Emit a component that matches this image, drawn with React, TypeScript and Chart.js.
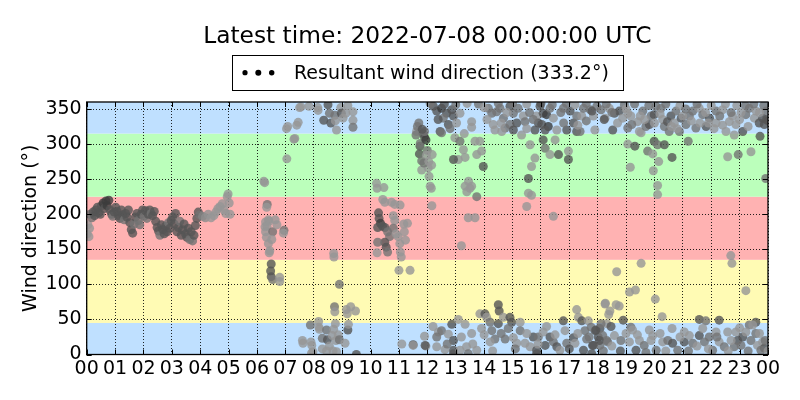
import { useEffect, useRef } from "react";
import { Chart, registerables } from "chart.js";

Chart.register(...registerables);

const TITLE = "Latest time: 2022-07-08 00:00:00 UTC";
const LEGEND_LABEL = "Resultant wind direction (333.2°)";
const Y_LABEL = "Wind direction (°)";
const HOUR_TICKS = [0, 1, 2, 3, 4, 5, 6, 7, 8, 9, 10, 11, 12, 13, 14, 15, 16, 17, 18, 19, 20, 21, 22, 23, 24];
const DIR_TICKS = [0, 50, 100, 150, 200, 250, 300, 350];
const BAND_LIMITS: [number, number][] = [[0, 45], [45, 135], [135, 225], [225, 315], [315, 360]];
const BAND_COLORS = ["#bfe0ff", "#fffbb4", "#ffb2b2", "#bbffbb", "#bfe0ff"];

// [hour, direction (deg), grey level of marker]
const night: [number, number, number][] = [
  [0.02,172,150],[0.04,185,150],[0.08,168,150],[0.1,180,150],[0.12,200,115],[0.18,195,115],[0.22,203,85],[0.28,198,85],[0.32,206,85],[0.38,210,85],[0.42,202,85],[0.48,200,85],[0.52,212,85],[0.58,216,60],[0.62,208,85],[0.68,219,60],[0.72,212,60],[0.78,220,60],[0.82,206,85],[0.88,200,85],[0.92,197,115],[0.97,203,85],[1.02,210,85],[1.07,204,85],[1.12,198,85],[1.17,194,85],[1.22,206,85],[1.27,199,85],[1.32,192,115],[1.37,201,85],[1.42,196,85],[1.47,206,85],[1.52,188,85],[1.57,178,85],[1.62,173,85],[1.67,186,115],[1.72,196,85],[1.77,201,85],[1.82,191,115],[1.87,185,115],[1.92,200,85],[1.97,206,85],[2.02,197,115],[2.07,205,85],[2.12,194,115],[2.17,200,85],[2.22,206,85],[2.27,201,115],[2.32,198,85],[2.38,204,85],[2.43,190,85],[2.48,181,85],[2.53,176,85],[2.58,170,115],[2.63,185,85],[2.68,178,85],[2.73,172,85],[2.78,183,85],[2.83,175,85],[2.88,188,115],[2.93,180,85],[2.98,191,85],[3.03,196,85],[3.08,186,85],[3.13,201,85],[3.18,175,85],[3.23,181,85],[3.28,190,115],[3.33,170,85],[3.38,178,85],[3.43,186,85],[3.48,172,85],[3.53,167,85],[3.58,180,85],[3.63,164,115],[3.68,175,85],[3.73,162,115],[3.78,170,85],[3.83,184,85],[3.88,194,85],[3.93,203,85],[3.98,199,115],[4.08,197,130],[4.18,195,140],[4.28,200,145],[4.38,195,150],[4.48,198,150],[4.55,203,150],[4.62,208,150],[4.7,211,150],[4.78,215,150],[4.84,206,150],[4.9,201,150],[4.95,225,150],[4.98,229,150],[5.02,216,150],[5.05,200,150],
];

const morning: [number, number, number][] = [
  [6.24,247,150],[6.27,245,150],[6.36,214,115],[6.34,210,150],[6.3,189,150],[6.4,192,150],[6.42,190,150],[6.28,182,150],[6.35,183,150],[6.3,175,150],[6.55,175,115],[6.33,167,150],[6.4,158,150],[6.43,145,150],[6.45,148,150],[6.52,164,150],[6.5,129,85],[6.48,119,85],[6.5,111,85],[6.55,107,115],[6.8,110,150],[6.8,104,150],[6.95,177,115],[6.93,173,150],[6.7,185,150],[6.64,192,150],
  [7.04,322,150],[7.08,325,150],[7.3,307,150],[7.33,308,150],[7.4,327,150],[7.45,331,150],[7.05,279,150],[7.5,352,150],[7.55,353,150],[7.83,354,150],[8.14,352,150],[8.15,348,150],
  [7.6,20,150],[7.62,16,150],[7.88,42,115],[8.17,47,150],[8.18,39,150],[8.2,36,150],[7.9,18,150],[7.93,13,150],[7.97,4,150],[7.92,2,150],[8.3,23,115],[8.45,35,115],[8.48,21,85],[8.65,27,150],[8.7,36,150],[8.76,44,150],[8.78,20,150],[8.55,12,150],[8.3,8,150],[8.45,5,150],[8.68,5,150],[8.86,28,150],[8.9,21,115],[8.8,4,150],[8.73,68,115],[8.74,61,150],[8.9,100,115],[9.2,35,85],[9.22,43,150],[9.15,64,150],[9.18,58,150],[9.3,68,150],[9.47,62,150],[9.1,16,150],[9.5,0,85],[8.7,144,150],[8.71,139,150],
  [8.5,356,85],[8.35,334,85],[8.55,344,115],[8.6,330,85],[8.74,341,115],[8.76,333,150],[8.8,320,150],[8.95,352,150],[8.97,344,85],[9.03,337,150],[9.13,344,150],[9.38,346,150],[9.38,334,150],[9.38,324,115],[9.2,355,150],
  [10.21,244,150],[10.23,237,150],[10.47,238,150],[10.43,221,150],[10.5,217,150],[10.74,217,150],[10.85,214,150],[10.28,202,85],[10.3,194,85],[10.35,187,60],[10.25,181,85],[10.42,183,85],[10.5,181,85],[10.6,175,115],[10.67,168,115],[10.5,160,85],[10.55,153,85],[10.6,146,115],[10.25,160,115],[10.23,145,150],[10.8,198,150],[10.85,191,150],[10.8,180,115],[10.9,172,150],[10.97,168,150],[11.17,186,150],[11.19,175,150],[11.23,163,150],[11.03,158,150],[11.05,146,150],[11.08,139,150],[11.0,120,150],[11.39,120,150],[11.1,15,150],[11.5,14,85],[11.9,26,150],[11.95,12,150],[11.04,213,150],[11.3,187,150],
  [11.62,318,150],[11.65,325,115],[11.7,330,115],[11.74,297,85],[11.72,286,85],[11.8,276,115],[11.8,263,150],[12.03,266,150],[12.06,254,150],[12.1,240,150],[12.14,237,150],[11.85,315,85],[11.9,310,85],[11.75,301,115],[11.95,306,60],[11.9,318,115],[12.0,291,115],[11.97,284,150],[12.17,285,150],[11.88,273,115],[12.05,275,150],[12.15,270,150],[12.16,212,150],[11.6,313,115],[11.82,321,85],
];

const afternoon: [number, number, number][] = [
  [12.21,354,85],[12.33,347,85],[12.5,351,60],[12.68,344,85],[12.86,349,85],[12.92,340,85],[12.56,337,115],[12.38,335,85],[12.74,328,85],[13.03,330,150],[13.15,344,150],[12.45,318,85],[12.5,316,115],[12.97,309,150],[13.15,304,115],[13.27,292,150],[13.09,278,150],[12.92,278,85],[13.33,281,150],[13.45,247,150],[13.5,237,150],[13.33,240,150],[13.39,232,150],[13.56,240,150],[13.74,225,115],[13.44,195,150],[13.68,195,150],[13.85,304,150],[13.91,290,150],[13.74,285,150],[13.68,304,150],[13.97,268,85],[13.56,332,150],[13.56,324,150],[13.2,155,150],
  [14.15,351,115],[14.27,344,115],[14.44,346,115],[14.38,320,150],[14.32,328,150],[14.56,351,115],[14.68,337,115],[14.74,323,115],[14.62,318,150],[14.91,328,115],[15.03,320,85],[15.03,344,115],[15.15,330,85],[15.32,313,150],[15.38,340,150],[14.91,354,85],[15.2,351,115],[15.44,332,115],
  [15.62,299,150],[15.79,280,150],[15.67,268,150],[15.56,251,85],[15.56,230,150],[15.67,227,150],[15.5,211,150],[15.85,340,150],[15.91,330,85],[15.97,354,85],[16.08,344,85],[16.03,328,85],[16.2,342,60],[16.26,325,60],[16.15,320,85],[16.08,306,85],[16.15,294,115],[15.79,320,85],[15.73,335,115],[16.32,351,115],[16.44,337,150],[16.56,320,150],[16.44,197,150],[16.32,285,150],[16.62,285,85],[16.5,306,150],
  [16.97,290,150],[16.97,278,85],[16.91,320,85],[17.03,347,85],[16.79,351,115],[17.26,318,85],[17.38,318,115],[17.15,330,85],[17.26,340,115],[17.44,340,150],[17.5,351,115],[17.74,349,115],[17.97,354,115],[18.26,337,150],
  [12.1,358,115],[12.6,357,85],[13.0,356,115],[13.4,358,150],[13.8,357,115],[14.0,352,150],[14.5,358,115],[14.8,345,150],[15.0,358,115],[15.5,357,150],[15.6,345,115],[16.0,358,85],[16.4,356,115],[16.7,345,115],[16.9,358,115],[17.2,356,150],[17.6,358,115],[17.85,340,150],[17.3,327,150],[17.6,333,115],[12.8,322,115],[13.3,315,150],[14.1,335,150],[14.6,330,150],[15.5,322,150],[16.8,330,115],[17.9,320,150],
  [11.5,13,150],[11.92,13,85],[12.39,32,150],[12.5,34,115],[12.33,25,115],[12.74,29,150],[12.86,43,85],[12.92,20,85],[13.09,50,150],[12.92,6,85],[12.92,1,85],[12.62,7,150],[12.33,11,150],[13.15,6,150],[13.33,43,150],[13.56,30,150],[13.38,11,150],[13.85,58,150],[14.03,58,85],[14.09,53,150],[13.91,37,150],[14.21,46,115],[14.5,71,85],[14.53,62,85],[14.27,34,115],[14.38,22,115],[14.21,18,150],[14.5,44,85],[14.68,53,150],[14.74,22,115],[14.91,53,85],[14.97,46,85],[14.85,37,115],[15.03,24,150],[15.27,46,150],[15.27,34,115],[15.15,16,150],[15.44,16,150],[15.62,11,150],[15.73,25,85],[15.85,6,85],[15.91,25,115],[16.08,32,150],[16.15,13,85],[16.32,25,85],[16.44,18,115],[16.56,11,85],[16.67,6,150],[16.79,48,85],[16.85,34,150],[16.91,16,115],[17.15,24,85],[17.2,16,150],[17.26,64,150],[17.32,53,150],[17.44,48,85],[17.67,48,150],[17.55,34,115],[17.61,22,115],[17.91,34,85],[18.08,37,85],[18.02,25,85],[17.85,13,85],[18.08,13,115],[18.26,72,150],[18.32,44,150],[18.32,20,115],[17.5,6,85],[17.79,1,85],[15.85,1,85],[13.74,6,150],[13.44,1,115],
  [12.2,40,150],[12.7,15,115],[13.2,25,150],[13.6,15,150],[14.0,28,150],[14.3,5,150],[14.6,30,115],[15.1,8,115],[15.5,30,150],[15.9,15,150],[16.2,40,150],[16.5,28,150],[17.0,8,85],[17.3,30,150],[17.7,25,115],
];

const evening: [number, number, number][] = [
  [17.8,347,85],[18.12,349,115],[18.23,335,85],[18.41,351,150],[18.59,344,85],[18.76,347,85],[18.88,337,150],[18.94,356,115],[19.06,344,150],[18.53,320,85],[19.06,323,115],[19.17,340,150],[19.41,332,150],[19.47,318,150],[19.53,316,150],[19.59,347,115],[19.7,325,115],[19.82,328,85],[19.88,340,115],[19.99,342,85],[20.05,354,115],[20.23,351,115],[20.29,335,150],[20.35,325,115],[20.46,332,85],[20.52,318,115],[20.58,340,85],[20.7,330,150],[20.76,347,115],[20.88,318,115],[20.94,337,85],[21.11,328,115],[21.23,340,115],[21.35,347,115],[21.46,323,115],[21.58,351,150],[21.7,342,115],[21.82,325,85],[21.94,337,85],[22.17,347,115],[22.17,330,150],[22.4,349,150],[22.52,318,150],[22.64,332,150],[22.75,340,150],[22.87,328,150],[22.81,313,150],[23.11,318,85],[23.22,342,115],[23.34,351,115],[23.52,337,150],[23.58,347,150],[23.69,330,85],[23.81,337,85],[23.87,328,85],[23.72,311,85],[23.93,347,115],[24.0,333,85],
  [18.3,357,115],[18.5,345,115],[18.7,330,150],[19.0,350,150],[19.3,357,115],[19.5,340,150],[19.8,355,115],[20.0,330,150],[20.2,343,150],[20.4,357,115],[20.6,325,150],[20.9,355,150],[21.0,340,150],[21.1,350,115],[21.3,333,150],[21.5,357,115],[21.6,330,150],[21.8,345,150],[22.0,355,150],[22.1,322,150],[22.3,340,115],[22.5,357,150],[22.7,345,115],[22.9,355,150],[23.0,335,150],[23.2,355,115],[23.3,325,150],[23.5,357,115],[23.7,345,150],[23.85,355,115],[23.95,335,85],[19.2,328,115],[19.65,335,150],[20.8,322,150],[21.9,330,150],[22.4,327,150],[23.05,345,150],
  [19.06,300,150],[19.31,297,85],[19.15,267,150],[19.76,290,115],[19.94,286,150],[19.99,304,85],[20.11,299,115],[20.35,299,85],[20.15,275,150],[19.96,262,150],[20.11,241,150],[20.11,228,150],[20.62,281,85],[21.19,304,115],[22.58,282,150],[22.95,285,115],[23.4,289,150],[23.92,251,115],
  [19.53,130,150],[18.67,118,150],[19.12,89,150],[19.33,92,150],[20.03,79,150],[18.27,73,150],[18.65,71,150],[18.76,69,150],[18.43,62,150],[18.39,57,150],[20.27,54,150],[18.9,49,85],[21.58,50,85],[21.81,48,115],[22.28,49,85],[22.69,141,150],[22.73,130,150],[23.22,91,150],[23.57,46,85],[23.34,42,115],
  [17.77,39,115],[17.94,35,85],[18.12,44,115],[18.47,40,85],[18.18,27,115],[18.06,20,85],[17.82,13,85],[18.35,18,115],[18.59,27,150],[18.82,20,115],[19.17,39,115],[19.23,35,150],[19.12,18,150],[19.35,6,85],[19.47,20,150],[19.64,13,115],[19.82,35,150],[19.88,20,150],[20.06,6,115],[19.94,27,150],[20.29,18,150],[20.47,20,115],[20.62,37,150],[20.64,16,85],[20.82,6,115],[21.05,32,150],[21.05,18,85],[21.23,27,150],[21.35,16,115],[21.58,27,85],[21.7,37,150],[21.76,18,115],[21.93,25,115],[22.05,6,115],[22.17,32,150],[22.28,18,150],[22.46,11,115],[22.58,32,150],[22.87,32,150],[22.93,20,85],[23.05,13,115],[23.11,25,85],[23.22,32,150],[23.4,20,115],[23.46,42,150],[23.57,30,115],[23.63,13,150],[23.81,18,150],[23.87,9,85],[23.75,6,115],[22.81,11,115],
  [18.2,5,115],[18.5,12,150],[18.8,5,85],[19.0,30,150],[19.4,28,150],[19.7,3,115],[20.2,30,150],[20.4,5,150],[20.9,25,150],[21.2,5,115],[21.5,12,150],[21.9,8,150],[22.2,25,115],[22.6,5,150],[22.7,20,150],[23.0,38,150],[23.3,5,115],[23.7,30,150],[23.9,20,115],[24.0,5,150],
];

const FONT = "'DejaVu Sans', sans-serif";

export default function App() {
  const ref = useRef<HTMLCanvasElement | null>(null);

  useEffect(() => {
    if (!ref.current) return;
    const points = [...night, ...morning, ...afternoon, ...evening];

    const decor = {
      id: "decor",
      beforeDraw(chart: any) {
        const { ctx, chartArea: a, scales } = chart;
        const y = scales.y;
        ctx.save();
        BAND_LIMITS.forEach((lim, i) => {
          const top = y.getPixelForValue(lim[1]);
          const bot = y.getPixelForValue(lim[0]);
          ctx.fillStyle = BAND_COLORS[i];
          ctx.fillRect(a.left, top, a.right - a.left, bot - top);
        });
        ctx.restore();
      },
      afterDraw(chart: any) {
        const { ctx, chartArea: a, scales } = chart;
        const x = scales.x;
        const y = scales.y;
        ctx.save();
        ctx.strokeStyle = "#000";
        ctx.lineWidth = 1;
        ctx.beginPath();
        HOUR_TICKS.forEach((h) => {
          const px = Math.round(x.getPixelForValue(h)) + 0.5;
          ctx.moveTo(px, a.bottom);
          ctx.lineTo(px, a.bottom - 5);
          ctx.moveTo(px, a.top);
          ctx.lineTo(px, a.top + 5);
        });
        DIR_TICKS.forEach((d) => {
          const py = Math.round(y.getPixelForValue(d)) + 0.5;
          ctx.moveTo(a.left, py);
          ctx.lineTo(a.left + 5, py);
          ctx.moveTo(a.right, py);
          ctx.lineTo(a.right - 5, py);
        });
        ctx.stroke();
        ctx.lineWidth = 1.3;
        ctx.strokeRect(a.left, a.top, a.right - a.left, a.bottom - a.top);

        const cx = (a.left + a.right) / 2;
        ctx.fillStyle = "#000";
        ctx.font = `23.3px ${FONT}`;
        ctx.textAlign = "center";
        ctx.textBaseline = "alphabetic";
        ctx.fillText(TITLE, cx, 43);

        ctx.lineWidth = 1;
        ctx.strokeRect(232.5, 55.5, 391, 35);
        ctx.font = `19px ${FONT}`;
        ctx.textAlign = "left";
        ctx.fillText(LEGEND_LABEL, 294, 78.5);
        const dots: [number, number][] = [[245, 2.6], [258.3, 3], [271.7, 2.7]];
        dots.forEach(([dx, r]) => {
          ctx.beginPath();
          ctx.arc(dx, 72.7, r, 0, Math.PI * 2);
          ctx.fill();
        });

        ctx.save();
        ctx.translate(36, (a.top + a.bottom) / 2);
        ctx.rotate(-Math.PI / 2);
        ctx.textAlign = "center";
        ctx.textBaseline = "alphabetic";
        ctx.font = `19px ${FONT}`;
        ctx.fillText(Y_LABEL, 0, 0);
        ctx.restore();
        ctx.restore();
      },
    };

    const chart = new Chart(ref.current, {
      type: "scatter",
      data: {
        datasets: [
          {
            label: LEGEND_LABEL,
            data: points.map((p) => ({ x: p[0], y: p[1] })),
            pointBackgroundColor: points.map((p) => `rgba(${p[2]},${p[2]},${p[2]},0.8)`),
            pointBorderWidth: 0,
            pointRadius: 4.5,
            pointHoverRadius: 4.5,
          },
        ],
      },
      options: {
        responsive: false,
        animation: false,
        events: [],
        layout: { padding: { top: 102, right: 32, left: 0, bottom: 0 } },
        plugins: { legend: { display: false }, title: { display: false }, tooltip: { enabled: false } },
        scales: {
          x: {
            type: "linear",
            min: 0,
            max: 24,
            afterFit: (s: any) => {
              s.height = 45.5;
            },
            afterBuildTicks: (s: any) => {
              s.ticks = HOUR_TICKS.map((v) => ({ value: v }));
            },
            ticks: {
              autoSkip: false,
              maxRotation: 0,
              padding: 3,
              color: "#000",
              font: { family: FONT, size: 19 },
              callback: (v: any) => String(Number(v) % 24).padStart(2, "0"),
            },
            grid: { color: "rgba(0,0,0,0.85)", lineWidth: 1, drawTicks: false },
            border: { display: false, dash: [1, 2] },
          },
          y: {
            type: "linear",
            min: 0,
            max: 360,
            afterFit: (s: any) => {
              s.width = 86.7;
            },
            afterBuildTicks: (s: any) => {
              s.ticks = DIR_TICKS.map((v) => ({ value: v }));
            },
            ticks: {
              autoSkip: false,
              padding: 5,
              color: "#000",
              font: { family: FONT, size: 19 },
              callback: (v: any) => String(v),
            },
            grid: { color: "rgba(0,0,0,0.85)", lineWidth: 1, drawTicks: false },
            border: { display: false, dash: [1, 2] },
          },
        },
      },
      plugins: [decor],
    });
    return () => chart.destroy();
  }, []);

  return (
    <div style={{ position: "fixed", left: 0, top: 0, width: 800, height: 400, background: "#fff" }}>
      <canvas ref={ref} width={800} height={400} style={{ width: 800, height: 400, display: "block" }} />
    </div>
  );
}
